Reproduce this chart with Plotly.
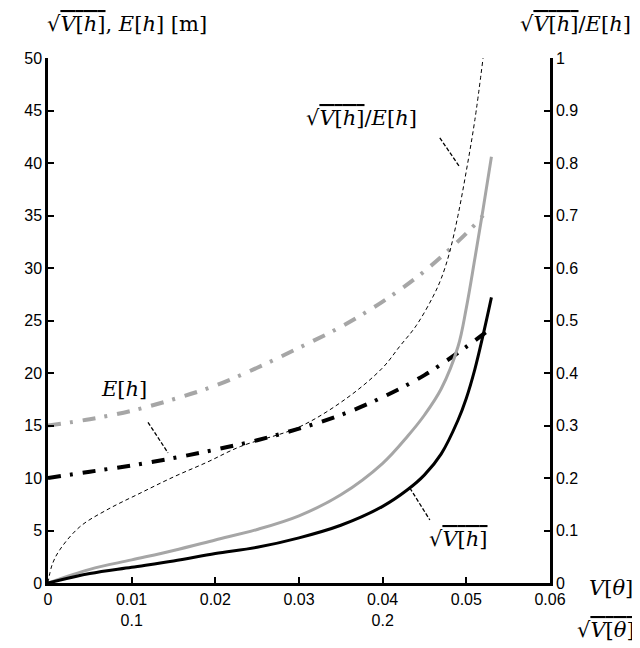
import plotly.graph_objects as go

# ---- data ----
v_sqrt_black = [0, 0.005, 0.01, 0.015, 0.02, 0.025, 0.03, 0.035, 0.04, 0.043, 0.045, 0.047, 0.049, 0.05, 0.051, 0.052, 0.053]
sqrt_vh_black = [0, 0.9, 1.5, 2.1, 2.8, 3.4, 4.3, 5.5, 7.3, 8.9, 10.3, 12.3, 15.5, 17.6, 20.3, 23.6, 27.2]

v_sqrt_gray = [0, 0.005, 0.01, 0.015, 0.02, 0.025, 0.03, 0.035, 0.04, 0.043, 0.045, 0.047, 0.049, 0.05, 0.051, 0.052, 0.053]
sqrt_vh_gray = [0, 1.3, 2.2, 3.1, 4.1, 5.1, 6.4, 8.4, 11.4, 14.0, 16.0, 18.5, 22.5, 26.2, 30.8, 35.6, 40.6]

v_eh_black = [0, 0.005, 0.01, 0.015, 0.02, 0.025, 0.03, 0.035, 0.04, 0.045, 0.05, 0.053]
eh_black = [10, 10.6, 11.2, 11.9, 12.7, 13.6, 14.7, 16.0, 17.7, 19.8, 22.5, 24.3]

v_eh_gray = [0, 0.005, 0.01, 0.015, 0.02, 0.025, 0.03, 0.035, 0.04, 0.045, 0.05, 0.052]
eh_gray = [15, 15.6, 16.4, 17.5, 18.8, 20.5, 22.4, 24.4, 26.8, 29.7, 33.3, 35.0]

v_ratio = [0, 0.0005, 0.0014, 0.0038, 0.007, 0.011, 0.015, 0.019, 0.023, 0.03, 0.0357, 0.04, 0.042, 0.044, 0.046, 0.047, 0.048, 0.049, 0.05, 0.051, 0.052]
ratio = [0, 0.035, 0.063, 0.107, 0.139, 0.171, 0.202, 0.23, 0.26, 0.297, 0.352, 0.41, 0.45, 0.49, 0.545, 0.58, 0.63, 0.70, 0.785, 0.88, 1.0]

x_tickvals = [0, 0.01, 0.02, 0.03, 0.04, 0.05, 0.06]
x_ticktext = ["0", "0.01<br>0.1", "0.02", "0.03", "0.04<br>0.2", "0.05", "0.06"]
y_tickvals = [0, 5, 10, 15, 20, 25, 30, 35, 40, 45, 50]
y2_tickvals = [0, 0.1, 0.2, 0.3, 0.4, 0.5, 0.6, 0.7, 0.8, 0.9, 1]
y2_ticktext = ["0", "0.1", "0.2", "0.3", "0.4", "0.5", "0.6", "0.7", "0.8", "0.9", "1"]

GRAY = "#a6a6a6"
SERIF = "DejaVu Serif"
SANS = "Liberation Sans"
SQ = "√<span style='text-decoration:overline'><i>V</i>[<i>h</i>]</span>"
SQT = "√<span style='text-decoration:overline'><i>V</i>[<i>θ</i>]</span>"

fig = go.Figure()
fig.add_trace(go.Scatter(x=v_eh_gray, y=eh_gray, mode="lines", line_shape="spline",
                         line=dict(color=GRAY, width=4, dash="13px,9px,3px,10px")))
fig.add_trace(go.Scatter(x=v_eh_black, y=eh_black, mode="lines", line_shape="spline",
                         line=dict(color="black", width=4, dash="13px,9px,3px,10px")))
fig.add_trace(go.Scatter(x=v_sqrt_gray, y=sqrt_vh_gray, mode="lines", line_shape="spline",
                         line=dict(color=GRAY, width=3)))
fig.add_trace(go.Scatter(x=v_sqrt_black, y=sqrt_vh_black, mode="lines", line_shape="spline",
                         line=dict(color="black", width=3)))
fig.add_trace(go.Scatter(x=v_ratio, y=ratio, mode="lines", yaxis="y2", line_shape="spline",
                         line=dict(color="black", width=1, dash="4px,3px")))

# leader lines
leaders = [
    (0.04683, 42.4, 0.04922, 39.6),
    (0.01195, 15.3, 0.01434, 12.4),
    (0.04325, 9.05, 0.04564, 6.0),
]
for x0, y0, x1, y1 in leaders:
    fig.add_shape(type="line", x0=x0, y0=y0, x1=x1, y1=y1, xref="x", yref="y",
                  line=dict(color="black", width=1.3, dash="4px,2px"))

ann_font = dict(family=SERIF, size=21, color="black")
fig.add_annotation(x=0.0375, y=44.3, xref="x", yref="y", showarrow=False,
                   text=SQ + "/<i>E</i>[<i>h</i>]", font=ann_font)
fig.add_annotation(x=0.00908, y=18.5, xref="x", yref="y", showarrow=False,
                   text="<i>E</i>[<i>h</i>]", font=ann_font)
fig.add_annotation(x=0.0491, y=4.2, xref="x", yref="y", showarrow=False,
                   text=SQ, font=ann_font)

# axis titles (centre-anchored)
fig.add_annotation(x=0.158, y=1.0, xref="paper", yref="paper", xanchor="center", yanchor="middle",
                   yshift=34, showarrow=False, text=SQ + ", <i>E</i>[<i>h</i>] [m]", font=ann_font)
fig.add_annotation(x=1.05, y=1.0, xref="paper", yref="paper", xanchor="center", yanchor="middle",
                   yshift=34, showarrow=False, text=SQ + "/<i>E</i>[<i>h</i>]", font=ann_font)
fig.add_annotation(x=1.122, y=0.0, xref="paper", yref="paper", xanchor="center", yanchor="middle",
                   yshift=-5, showarrow=False, text="<i>V</i>[<i>θ</i>]", font=ann_font)
fig.add_annotation(x=1.111, y=0.0, xref="paper", yref="paper", xanchor="center", yanchor="middle",
                   yshift=-47, showarrow=False, text=SQT, font=ann_font)

axis_common = dict(showgrid=False, zeroline=False, showline=True, linecolor="black", linewidth=2.5,
                   ticks="inside", ticklen=6, tickwidth=2, tickcolor="black",
                   tickfont=dict(family=SANS, size=16, color="black"))

fig.update_layout(
    width=632, height=640,
    margin=dict(l=40, r=90, t=50, b=65),
    plot_bgcolor="white", paper_bgcolor="white",
    showlegend=False,
    xaxis=dict(range=[0, 0.06], tickvals=x_tickvals, ticktext=x_ticktext, **axis_common),
    yaxis=dict(range=[0, 50], tickvals=y_tickvals, **axis_common),
    yaxis2=dict(range=[0, 1], tickvals=y2_tickvals, ticktext=y2_ticktext,
                overlaying="y", side="right", anchor="x", **axis_common),
)

fig.write_html("out.html")
